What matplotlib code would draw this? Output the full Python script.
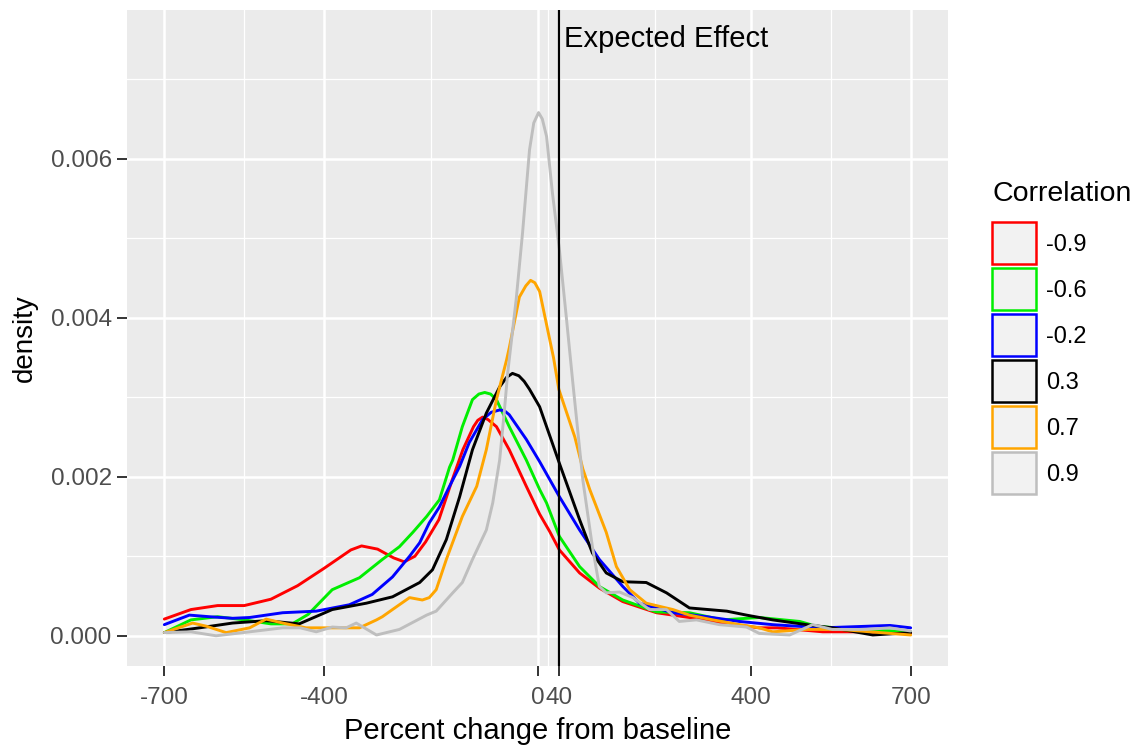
import matplotlib
matplotlib.use("Agg")
import matplotlib.pyplot as plt
from matplotlib.patches import Patch

plt.rcParams['font.family'] = ['Liberation Sans', 'DejaVu Sans']

# values (percent change, density)
red_x = [-700, -650, -600, -550, -500, -450, -400, -350, -330, -300, -270, -250, -230, -210,
         -185, -160, -140, -120, -112, -103, -93, -77, -53, -21, 4, 23, 41, 79, 116, 160, 223,
         285, 347, 416, 450, 535, 600, 700]
red_y = [0.00021, 0.00033, 0.00038, 0.00038, 0.00046, 0.00063, 0.00085, 0.00108, 0.00113,
         0.00109, 0.00098, 0.00093, 0.00100, 0.00118, 0.00146, 0.00196, 0.00234, 0.00263,
         0.00271, 0.00275, 0.00272, 0.00263, 0.00234, 0.00188, 0.00153, 0.00131, 0.00108,
         0.00079, 0.00060, 0.00043, 0.00029, 0.00023, 0.00016, 0.00010, 0.00010, 0.00005,
         0.00005, 0.00003]

green_x = [-700, -650, -600, -550, -500, -460, -430, -385, -334, -291, -259, -234, -208, -184,
           -165, -159, -141, -122, -110, -99, -88, -77, -53, -21, 4, 17, 41, 79, 116, 160, 223,
           285, 347, 416, 492, 523, 600, 700]
green_y = [0.00004, 0.00020, 0.00024, 0.00020, 0.00015, 0.00015, 0.00027, 0.00058, 0.00073,
           0.00096, 0.00112, 0.00130, 0.00150, 0.00171, 0.00212, 0.00221, 0.00263, 0.00297,
           0.00304, 0.00306, 0.00304, 0.00297, 0.00263, 0.00221, 0.00184, 0.00167, 0.00125,
           0.00087, 0.00062, 0.00045, 0.00030, 0.00029, 0.00020, 0.00023, 0.00018, 0.00012,
           0.00008, 0.00005]

blue_x = [-700, -653, -616, -572, -540, -478, -415, -353, -310, -272, -240, -221, -203, -184,
          -165, -146, -128, -103, -87, -71, -62, -53, -21, 4, 41, 79, 116, 160, 191, 254, 317,
          379, 441, 535, 661, 700]
blue_y = [0.00014, 0.00026, 0.00024, 0.00022, 0.00023, 0.00029, 0.00031, 0.00039, 0.00052,
          0.00074, 0.00100, 0.00117, 0.00142, 0.00162, 0.00188, 0.00213, 0.00243, 0.00272,
          0.00281, 0.00284, 0.00283, 0.00278, 0.00247, 0.00219, 0.00175, 0.00133, 0.00096,
          0.00062, 0.00041, 0.00029, 0.00024, 0.00018, 0.00014, 0.00010, 0.00013, 0.00010]

black_x = [-700, -634, -572, -509, -447, -385, -321, -272, -221, -197, -171, -146, -122, -96,
           -71, -58, -47, -35, -25, -15, 4, 41, 79, 103, 129, 160, 204, 242, 285, 355, 392, 441,
           505, 553, 629, 700]
black_y = [0.00004, 0.00010, 0.00016, 0.00019, 0.00015, 0.00033, 0.00041, 0.00049, 0.00067,
           0.00083, 0.00121, 0.00175, 0.00234, 0.00280, 0.00313, 0.00325, 0.00330, 0.00327,
           0.00320, 0.00310, 0.00288, 0.00217, 0.00146, 0.00104, 0.00079, 0.00068, 0.00067,
           0.00054, 0.00035, 0.00031, 0.00026, 0.00020, 0.00014, 0.00010, 0.00001, 0.00004]

orange_x = [-700, -647, -621, -584, -540, -509, -478, -434, -385, -334, -302, -291, -272, -240,
            -216, -203, -190, -171, -141, -114, -96, -77, -58, -53, -34, -22, -13, -5, 4, 19,
            30, 40, 55, 70, 85, 98, 129, 148, 173, 204, 254, 285, 329, 379, 416, 441, 505, 567,
            700]
orange_y = [0.00004, 0.00016, 0.00012, 0.00004, 0.00010, 0.00021, 0.00016, 0.00010, 0.00010,
            0.00010, 0.00020, 0.00024, 0.00033, 0.00048, 0.00045, 0.00048, 0.00058, 0.00096,
            0.00150, 0.00188, 0.00234, 0.00297, 0.00347, 0.00362, 0.00426, 0.00440, 0.00447,
            0.00444, 0.00433, 0.00385, 0.00350, 0.00310, 0.00280, 0.00250, 0.00210, 0.00184,
            0.00130, 0.00087, 0.00058, 0.00041, 0.00033, 0.00026, 0.00020, 0.00014, 0.00010,
            0.00005, 0.00008, 0.00008, 0.00001]

gray_x = [-700, -650, -603, -540, -478, -445, -415, -385, -359, -340, -302, -259, -208, -190,
          -159, -141, -122, -96, -84, -71, -62, -56, -40, -28, -15, -7, 2, 9, 17, 28, 41, 54,
          66, 85, 103, 116, 129, 154, 179, 210, 242, 266, 298, 341, 392, 416, 473, 516, 553,
          617, 661, 700]
gray_y = [0.00004, 0.00005, 0.00000, 0.00005, 0.00010, 0.00010, 0.00005, 0.00011, 0.00010,
          0.00016, 0.00001, 0.00008, 0.00026, 0.00031, 0.00054, 0.00067, 0.00096, 0.00133,
          0.00167, 0.00221, 0.00284, 0.00330, 0.00423, 0.00507, 0.00611, 0.00645, 0.00658,
          0.00650, 0.00628, 0.00557, 0.00486, 0.00401, 0.00320, 0.00196, 0.00112, 0.00062,
          0.00054, 0.00055, 0.00048, 0.00033, 0.00033, 0.00018, 0.00020, 0.00014, 0.00011,
          0.00003, 0.00001, 0.00014, 0.00008, 0.00008, 0.00010, 0.00006]

labels = ["-0.9", "-0.6", "-0.2", "0.3", "0.7", "0.9"]
colors = ["#FF0000", "#00EE00", "#0000FF", "#000000", "#FFA500", "#BEBEBE"]
series = [(red_x, red_y), (green_x, green_y), (blue_x, blue_y),
          (black_x, black_y), (orange_x, orange_y), (gray_x, gray_y)]

expected = 40
x_ticks = [-700, -400, 0, 40, 400, 700]
x_minor = [-550, -200, 20, 220, 550]
y_ticks = [0.000, 0.002, 0.004, 0.006]
y_minor = [0.001, 0.003, 0.005, 0.007]

fig = plt.figure(figsize=(11.39, 7.49), dpi=100)
ax = fig.add_axes([127 / 1139, 1 - 666 / 749, (948 - 127) / 1139, (666 - 10) / 749])
ax.set_facecolor("#EBEBEB")
for s in ax.spines.values():
    s.set_visible(False)

for (xs, ys), c in zip(series, colors):
    ax.plot(xs, ys, color=c, lw=2.1, solid_joinstyle='round', solid_capstyle='round', zorder=3)

ax.axvline(expected, color="black", lw=1.6, zorder=4)
ax.text(expected + 10, 0.0075, "Expected Effect", fontsize=21, ha="left", va="center",
        color="black", zorder=5)

ax.set_xlim(-770, 770)
ax.set_ylim(-0.00038, 0.00787)
ax.set_xticks(x_ticks)
ax.set_xticklabels([str(v) for v in x_ticks])
ax.set_xticks(x_minor, minor=True)
ax.set_yticks(y_ticks)
ax.set_yticklabels(["%.3f" % v for v in y_ticks])
ax.set_yticks(y_minor, minor=True)
ax.grid(which="major", color="white", lw=1.8, zorder=0)
ax.grid(which="minor", color="white", lw=0.9, zorder=0)
ax.set_axisbelow(True)
ax.tick_params(which="major", length=7, width=1.4, color="#333333",
               labelsize=17.5, labelcolor="#4D4D4D")
ax.tick_params(axis="x", which="major", pad=8)
ax.tick_params(axis="y", which="major", pad=4)
ax.tick_params(which="minor", length=0)

ax.set_xlabel("Percent change from baseline", fontsize=21, labelpad=6)
ax.set_ylabel("density", fontsize=20, labelpad=9)

handles = [Patch(facecolor="#F2F2F2", edgecolor=c, lw=1.8) for c in colors]
leg = fig.legend(handles, labels, title="Correlation", loc="upper left",
                 bbox_to_anchor=(992 / 1139, 1 - 181 / 749), frameon=False,
                 fontsize=17, title_fontsize=20.5, handlelength=1.85, handleheight=2.36,
                 labelspacing=0.17, handletextpad=0.45, borderpad=0, borderaxespad=0,
                 alignment="left")
leg._legend_box.sep = 11

fig.savefig("out.png", dpi=100)
